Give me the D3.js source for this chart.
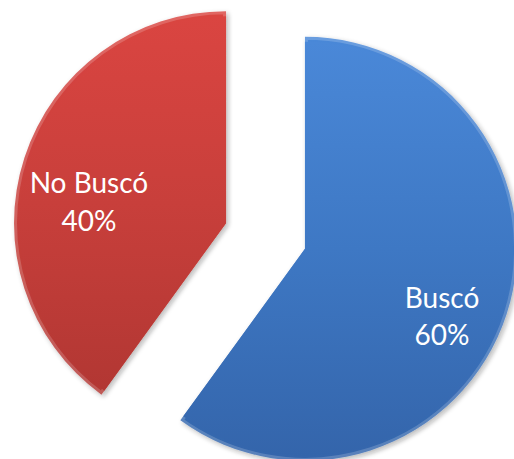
<!DOCTYPE html>
<html>
<head>
<meta charset="utf-8">
<script src="https://cdn.jsdelivr.net/npm/d3@7"></script>
<style>
  body { margin: 0; background: #fff; }
</style>
</head>
<body>
<svg width="514" height="459"></svg>
<script>
// chart data
var categories = ["Buscó", "No Buscó"];
var values = [60, 40];
var labels = ["60%", "40%"];

function main() {
    var svg = d3.select("svg");
    var radius = 212;
    var cx = 265.5, cy = 236;   // pie centre before exploding
    var explode = 41.5;

    var defs = svg.append("defs");
    var fills = [["#4a88d8", "#3e78c4", "#3465ab"], ["#da4541", "#c83f3b", "#b23733"]];
    fills.forEach(function (c, i) {
        var gr = defs.append("linearGradient").attr("id", "g" + i)
            .attr("x1", 0).attr("y1", 0).attr("x2", 0).attr("y2", 1);
        gr.append("stop").attr("offset", "0%").attr("stop-color", c[0]);
        gr.append("stop").attr("offset", "50%").attr("stop-color", c[1]);
        gr.append("stop").attr("offset", "100%").attr("stop-color", c[2]);
    });
    var f = defs.append("filter").attr("id", "shadow")
        .attr("x", "-10%").attr("y", "-10%").attr("width", "120%").attr("height", "120%");
    f.append("feGaussianBlur").attr("in", "SourceAlpha").attr("stdDeviation", 2.5);
    f.append("feOffset").attr("dx", 2).attr("dy", 2).attr("result", "b");
    f.append("feComponentTransfer").append("feFuncA").attr("type", "linear").attr("slope", 0.35);
    var m = f.append("feMerge");
    m.append("feMergeNode");
    m.append("feMergeNode").attr("in", "SourceGraphic");

    var pie = d3.pie().sort(null).value(function (d) { return d; });
    var arcs = pie(values);
    var arc = d3.arc().innerRadius(0).outerRadius(radius);
    var inner = d3.arc().innerRadius(0).outerRadius(radius - 5);
    var labelArc = d3.arc().innerRadius(radius * 0.68).outerRadius(radius * 0.68);

    var g = svg.append("g").attr("transform", "translate(" + cx + "," + cy + ")");

    var slice = g.selectAll(".slice")
        .data(arcs)
        .enter().append("g")
        .attr("class", "slice")
        .attr("transform", function (d) {
            var a = (d.startAngle + d.endAngle) / 2;
            return "translate(" + (Math.sin(a) * explode) + "," + (-Math.cos(a) * explode) + ")";
        });

    slice.append("path")
        .attr("d", arc)
        .attr("fill", function (d, i) { return "url(#g" + i + ")"; })
        .attr("filter", "url(#shadow)");

    // bevel highlight along the edge
    slice.append("path")
        .attr("d", arc)
        .attr("fill", "none")
        .attr("stroke", "#ffffff")
        .attr("stroke-opacity", 0.18)
        .attr("stroke-width", 6);
    slice.append("path")
        .attr("d", inner)
        .attr("fill", function (d, i) { return "url(#g" + i + ")"; });

    // labels
    slice.append("text")
        .attr("transform", function (d) {
            var p = labelArc.centroid(d);
            return "translate(" + p[0] + "," + (p[1] + 17) + ")";
        })
        .attr("text-anchor", "middle")
        .attr("fill", "#ffffff")
        .style("font-family", "Lato, 'Open Sans', sans-serif")
        .attr("font-size", "28px")
        .selectAll("tspan")
        .data(function (d, i) { return [categories[i], labels[i]]; })
        .enter().append("tspan")
        .attr("x", 0)
        .attr("dy", function (d, i) { return i === 0 ? "-0.1em" : "1.35em"; })
        .text(function (d) { return d; });
}
main();
</script>
</body>
</html>
